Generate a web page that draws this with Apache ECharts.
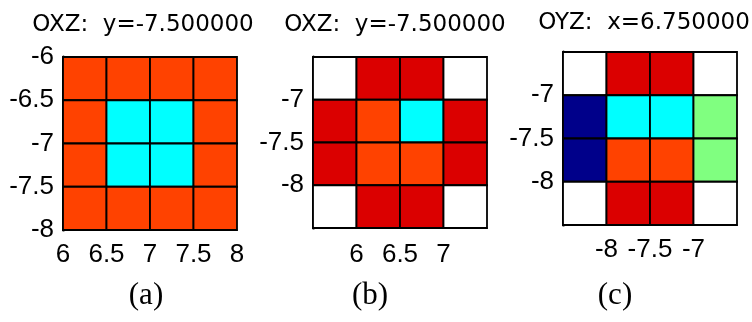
<!DOCTYPE html>
<html>
<head>
<meta charset="utf-8">
<script src="https://cdn.jsdelivr.net/npm/echarts@6/dist/echarts.min.js"></script>
<style>
html,body{margin:0;padding:0;background:#fff;}
#c{width:752px;height:322px;}
</style>
</head>
<body>
<div id="c"></div>
<script>
// ---- data ----
const titles = ['OXZ:  y=-7.500000', 'OXZ:  y=-7.500000', 'OYZ:  x=6.750000'];
const captions = ['(a)', '(b)', '(c)'];

// cell centres of each panel
const xCentersA = [6.25, 6.75, 7.25, 7.75];
const yCentersA = [-6.25, -6.75, -7.25, -7.75];
const xCentersB = [5.75, 6.25, 6.75, 7.25];
const yCentersB = [-6.75, -7.25, -7.75, -8.25];
const xCentersC = [-8.25, -7.75, -7.25, -6.75];
const yCentersC = [-6.75, -7.25, -7.75, -8.25];

// axis ranges
const xRangeA = [6, 8], yRangeA = [-8, -6];
const xRangeB = [5.5, 7.5], yRangeB = [-8.5, -6.5];
const xRangeC = [-8.5, -6.5], yRangeC = [-8.5, -6.5];

// colour-map values (jet, 0..1), rows top to bottom; null = empty cell
const valuesA = [
  [0.81, 0.81, 0.81, 0.81],
  [0.81, 0.375, 0.375, 0.81],
  [0.81, 0.375, 0.375, 0.81],
  [0.81, 0.81, 0.81, 0.81]
];
const valuesB = [
  [null, 0.91, 0.91, null],
  [0.91, 0.81, 0.375, 0.91],
  [0.91, 0.81, 0.81, 0.91],
  [null, 0.91, 0.91, null]
];
const valuesC = [
  [null, 0.91, 0.91, null],
  [0.01, 0.375, 0.375, 0.5],
  [0.01, 0.81, 0.81, 0.5],
  [null, 0.91, 0.91, null]
];

// ---- helpers ----
function jet(t) {
  const r = Math.min(Math.max(Math.min(4 * t - 1.5, -4 * t + 4.5), 0), 1);
  const g = Math.min(Math.max(Math.min(4 * t - 0.5, -4 * t + 3.5), 0), 1);
  const b = Math.min(Math.max(Math.min(4 * t + 0.5, -4 * t + 2.5), 0), 1);
  return 'rgb(' + Math.round(r * 255) + ',' + Math.round(g * 255) + ',' + Math.round(b * 255) + ')';
}
function buildData(xs, ys, vals) {
  const out = [];
  ys.forEach((y, r) => xs.forEach((x, c) => out.push([x, y, vals[r][c]])));
  return out;
}
const panels = [
  { xs: xCentersA, ys: yCentersA, vals: valuesA, xr: xRangeA, yr: yRangeA, hideEnds: false, xm: 12,
    grid: { left: 63, top: 57, width: 174, height: 173 } },
  { xs: xCentersB, ys: yCentersB, vals: valuesB, xr: xRangeB, yr: yRangeB, hideEnds: true, xm: 14,
    grid: { left: 313, top: 57, width: 174, height: 171 } },
  { xs: xCentersC, ys: yCentersC, vals: valuesC, xr: xRangeC, yr: yRangeC, hideEnds: true, xm: 12,
    grid: { left: 563, top: 52, width: 174, height: 173 } }
];
const titlePos = [[143, 25], [395, 25], [644, 23]];
const captionPos = [[146, 296], [370, 296], [615, 296]];

const labelFont = { fontFamily: 'Liberation Sans', fontSize: 26, color: '#000' };

const option = {
  backgroundColor: '#fff',
  animation: false,
  grid: panels.map(p => Object.assign({ containLabel: false }, p.grid)),
  xAxis: panels.map((p, i) => ({
    type: 'value', gridIndex: i, min: p.xr[0], max: p.xr[1], interval: 0.5,
    splitLine: { show: false },
    axisTick: { show: false },
    axisLine: { show: true, onZero: false, lineStyle: { color: '#000', width: 1.5 } },
    axisLabel: Object.assign({ margin: p.xm, showMinLabel: !p.hideEnds, showMaxLabel: !p.hideEnds }, labelFont)
  })),
  yAxis: panels.map((p, i) => ({
    type: 'value', gridIndex: i, min: p.yr[0], max: p.yr[1], interval: 0.5,
    splitLine: { show: false },
    axisTick: { show: false },
    axisLine: { show: true, onZero: false, lineStyle: { color: '#000', width: 3 } },
    axisLabel: Object.assign({ margin: 9, showMinLabel: !p.hideEnds, showMaxLabel: !p.hideEnds }, labelFont)
  })),
  series: panels.map((p, i) => ({
    type: 'custom', xAxisIndex: i, yAxisIndex: i, z: 1,
    data: buildData(p.xs, p.ys, p.vals),
    renderItem: function (params, api) {
      const x = api.value(0), y = api.value(1);
      const v = p.vals[Math.floor(params.dataIndex / 4)][params.dataIndex % 4];
      const p0 = api.coord([x - 0.25, y + 0.25]);
      const p1 = api.coord([x + 0.25, y - 0.25]);
      return {
        type: 'rect',
        shape: { x: p0[0], y: p0[1], width: p1[0] - p0[0], height: p1[1] - p0[1] },
        style: { fill: v == null ? '#fff' : jet(v), stroke: '#000', lineWidth: 1.8 }
      };
    }
  })),
  graphic: titles.map((t, i) => ({
    type: 'text', x: titlePos[i][0], y: titlePos[i][1],
    style: { text: t, fontFamily: 'DejaVu Sans', fontSize: 23, fill: '#000', align: 'center', verticalAlign: 'middle' }
  })).concat(captions.map((t, i) => ({
    type: 'text', x: captionPos[i][0], y: captionPos[i][1],
    style: { text: t, fontFamily: 'Liberation Serif', fontSize: 31, fill: '#000', align: 'center', verticalAlign: 'middle' }
  })))
};

const chart = echarts.init(document.getElementById('c'), null, { renderer: 'canvas' });
chart.setOption(option);
</script>
</body>
</html>
